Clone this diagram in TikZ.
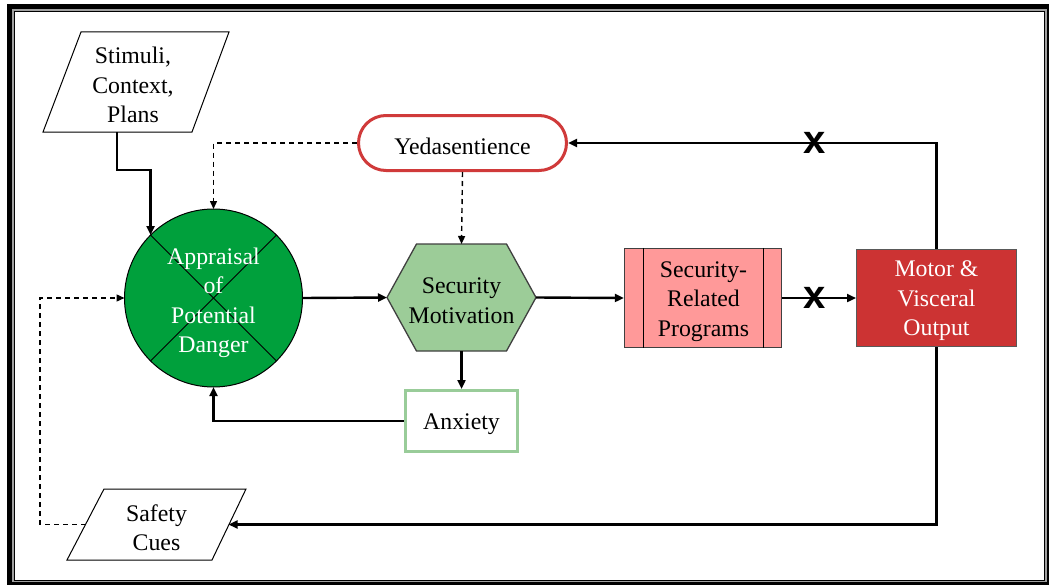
\documentclass[tikz,border=0pt]{standalone}
\usepackage{fontspec}
\setmainfont{Liberation Serif}
\newfontfamily\markfont{Liberation Sans}
\usetikzlibrary{arrows.meta,shapes.misc}
\definecolor{apgreen}{HTML}{00A03C}
\definecolor{hexgreen}{HTML}{9CCC98}
\definecolor{anxgreen}{HTML}{99CC99}
\definecolor{yedred}{HTML}{D03A3A}
\definecolor{srppink}{HTML}{FF9999}
\definecolor{motred}{HTML}{CC3333}
\definecolor{framegray}{HTML}{A0A0A0}
\begin{document}
\begin{tikzpicture}[x=1pt,y=-1pt,
  txt/.style={font=\rmfamily\fontsize{23.8}{29.5}\selectfont, align=center, inner sep=0pt, yshift=-3pt},
  ghost/.style={rectangle, inner sep=0pt, outer sep=0pt},
  para/.style={draw=black, fill=white, line width=1pt},
  conn/.style={line width=2.4pt, -{Triangle[length=9pt,width=8pt]}},
  dconn/.style={line width=1.4pt, dash pattern=on 5pt off 4pt, -{Triangle[length=8pt,width=7pt]}},
  xmark/.style={font=\markfont\bfseries\fontsize{40}{40}\selectfont, inner sep=0pt}
]
\useasboundingbox (0,0) rectangle (1050,586);
% frame
\fill[black] (7.3,4) rectangle (1049,585);
\fill[framegray] (12.3,9) rectangle (1046.7,582);
\fill[black] (14,10.7) rectangle (1045.3,580.5);
\fill[white] (15.3,12) rectangle (1044,579.5);

% Stimuli parallelogram
\node[ghost, minimum width=186pt, minimum height=100pt] (stim) at (136,82) {};
\draw[para] ([xshift=38pt]stim.north west) -- (stim.north east) -- ([xshift=-37pt]stim.south east) -- (stim.south west) -- cycle;
\node[txt] (stimt) at ([xshift=-3pt]stim.center) {Stimuli,\\Context,\\Plans};

% Safety parallelogram
\node[ghost, minimum width=179pt, minimum height=71pt] (safe) at (156.5,524.5) {};
\draw[para] ([xshift=37pt]safe.north west) -- (safe.north east) -- ([xshift=-34pt]safe.south east) -- (safe.south west) -- cycle;
\node[txt] (safet) at ([xshift=0pt]safe.center) {Safety\\Cues};
\coordinate (safeR) at ([xshift=-17.5pt]safe.east);
\coordinate (safeL) at ([xshift=18.5pt]safe.west);

% Appraisal circle
\node[circle, draw=black, line width=1pt, fill=apgreen, minimum size=178pt, inner sep=0pt, outer sep=0pt] (app) at (213.5,298) {};
\draw[line width=1pt] (app.45) -- (app.225);
\draw[line width=1pt] (app.135) -- (app.-45);
\node[txt, text=white] (appt) at (213.5,300) {Appraisal\\of\\Potential\\Danger};

% Yedasentience
\node[rounded rectangle, draw=yedred, line width=3pt, fill=white, minimum width=208pt, minimum height=55pt, inner sep=0pt, outer sep=1.5pt] (yed) at (462.5,143) {};
\node[txt] (yedt) at (yed.center) {Yedasentience};

% Security Motivation hexagon
\node[ghost, minimum width=149pt, minimum height=107pt] (hex) at (461.5,297.5) {};
\draw[draw=black!75, line width=1.3pt, fill=hexgreen] (hex.west) -- ([xshift=29.5pt]hex.north west) -- ([xshift=-29.5pt]hex.north east) -- (hex.east) -- ([xshift=-29.5pt]hex.south east) -- ([xshift=29.5pt]hex.south west) -- cycle;
\node[txt] (hext) at (hex.center) {Security\\Motivation};

% Anxiety
\node[rectangle, draw=anxgreen, line width=3pt, fill=white, minimum width=112pt, minimum height=61pt, inner sep=0pt, outer sep=1.5pt] (anx) at (461.5,421) {};
\node[txt] (anxt) at (anx.center) {Anxiety};

% Security-Related Programs
\node[rectangle, draw=black!75, line width=1.3pt, fill=srppink, minimum width=157pt, minimum height=99pt, inner sep=0pt, outer sep=0.65pt] (srp) at (703,298) {};
\draw[line width=1.2pt] ([xshift=20pt]srp.north west) -- ([xshift=20pt]srp.south west);
\draw[line width=1.2pt] ([xshift=-19pt]srp.north east) -- ([xshift=-19pt]srp.south east);
\node[txt] (srpt) at (703.5,298.5) {Security-\\Related\\Programs};

% Motor & Visceral Output
\node[rectangle, draw=black!65, line width=1pt, fill=motred, minimum width=160pt, minimum height=97pt, inner sep=0pt, outer sep=0.5pt] (mot) at (936.5,298) {};
\node[txt, text=white] (mott) at (mot.center) {Motor \&\\Visceral\\Output};

% connectors
\draw[line width=2.4pt, -{Triangle[length=9pt,width=8pt]}] ([xshift=-19pt]stim.south) |- (150,170) -| (app.135);
\draw[dconn] (yed.west) -| (app.north);
\draw[dconn] (yed.south) -- (hex.north);
\draw[conn] (app.east) -- (hex.west);
\draw[conn] (hex.south) -- (anx.north);
\draw[conn] (anx.west) -| (app.south);
\draw[conn] (hex.east) -- (srp.west);
\draw[conn] (srp.east) -- (mot.west);
\draw[conn] (mot.north) |- (yed.east);
\draw[conn] (mot.south) |- (safeR);
\coordinate (lx) at (40,298);
\draw[dconn] (safeL) -| (lx) -- (app.west);

% x marks
\node[xmark] (xm1) at (815,143) {x};
\node[xmark] (xm2) at (815,298) {x};
\end{tikzpicture}
\end{document}
